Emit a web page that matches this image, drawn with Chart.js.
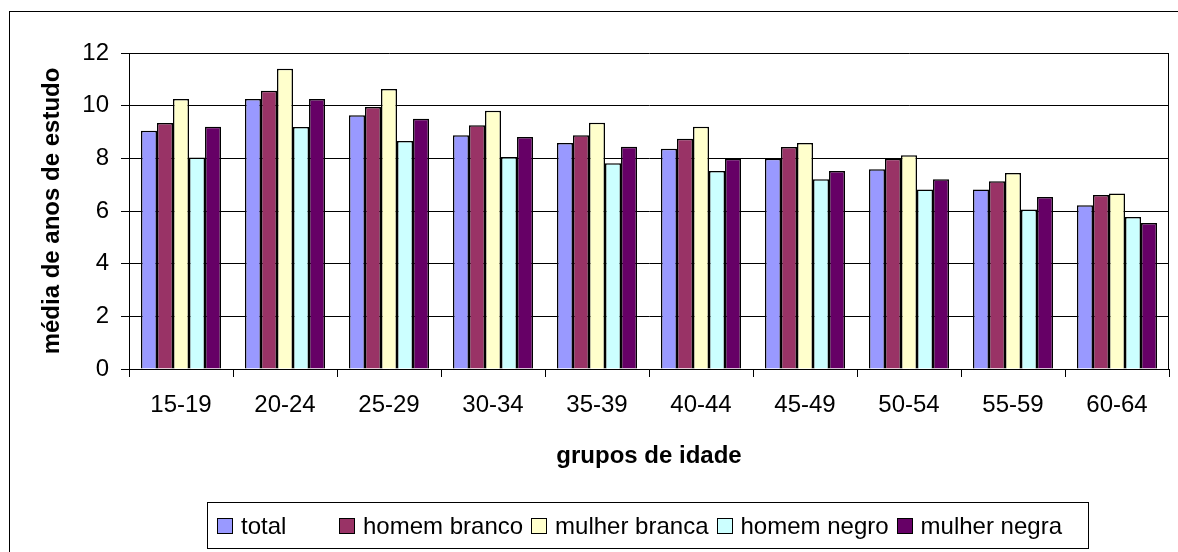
<!DOCTYPE html>
<html>
<head>
  <meta charset="utf-8">
  <title>média de anos de estudo</title>
  <script src="https://cdn.jsdelivr.net/npm/chart.js"></script>
  <style>
    body {
      margin: 0;
      background: #ffffff;
      font-family: 'Liberation Sans', Arial, sans-serif;
    }
    #wrap {
      position: relative;
      width: 1178px;
      height: 552px;
      overflow: hidden;
    }
    #legend {
      position: absolute;
      left: 207px;
      top: 502px;
      width: 882px;
      height: 47px;
      border: 1px solid #000;
      display: flex;
      align-items: center;
      padding-left: 9px;
      box-sizing: border-box;
      font-size: 24px;
      color: #000;
      white-space: nowrap;
    }
    .item {
      display: flex;
      align-items: center;
      margin-right: 8px;
    }
    .item .box {
      width: 14px;
      height: 14px;
      border: 1px solid #000;
      margin-right: 8px;
    }
  </style>
</head>
<body>
<div id="wrap">
  <canvas id="chart" width="1178" height="552"></canvas>
  <div id="legend"></div>
</div>

<script>
  // data
  const groups = ['15-19', '20-24', '25-29', '30-34', '35-39', '40-44', '45-49', '50-54', '55-59', '60-64'];
  const total = [9.05, 10.25, 9.64, 8.88, 8.58, 8.36, 7.98, 7.59, 6.82, 6.22];
  const homemBranco = [9.34, 10.57, 9.95, 9.26, 8.88, 8.74, 8.43, 7.98, 7.13, 6.61];
  const mulherBranca = [10.25, 11.4, 10.63, 9.81, 9.35, 9.2, 8.58, 8.12, 7.44, 6.66];
  const homemNegro = [8.03, 9.19, 8.66, 8.05, 7.81, 7.52, 7.21, 6.82, 6.06, 5.77];
  const mulherNegra = [9.2, 10.25, 9.5, 8.81, 8.44, 7.98, 7.52, 7.21, 6.53, 5.54];
  const seriesNames = ['total', 'homem branco', 'mulher branca', 'homem negro', 'mulher negra'];
  const seriesColors = ['#9999FF', '#993366', '#FFFFCC', '#CCFFFF', '#660066'];
  const yTicks = [0, 2, 4, 6, 8, 10, 12];

  const font = "'Liberation Sans', Arial, sans-serif";

  // outer frame + right edge of the plot area
  const framePlugin = {
    id: 'frame',
    beforeDraw(chart) {
      const ctx = chart.ctx;
      ctx.save();
      ctx.fillStyle = '#fff';
      ctx.fillRect(0, 0, chart.width, chart.height);
      ctx.strokeStyle = '#000';
      ctx.lineWidth = 1;
      ctx.strokeRect(9.5, 11.5, 1200, 600);
      ctx.restore();
    },
    afterDraw(chart) {
      const a = chart.chartArea;
      const ctx = chart.ctx;
      ctx.save();
      ctx.strokeStyle = '#000';
      ctx.lineWidth = 1;
      ctx.beginPath();
      ctx.moveTo(Math.round(a.right) - 0.5, a.top);
      ctx.lineTo(Math.round(a.right) - 0.5, a.bottom);
      ctx.stroke();
      ctx.restore();
    }
  };

  const seriesData = [total, homemBranco, mulherBranca, homemNegro, mulherNegra];

  const chart = new Chart(document.getElementById('chart'), {
    type: 'bar',
    data: {
      labels: groups,
      datasets: seriesNames.map((name, i) => ({
        label: name,
        data: seriesData[i],
        backgroundColor: seriesColors[i],
        borderColor: '#000',
        borderWidth: 1.5,
        categoryPercentage: 0.77,
        barPercentage: 1
      }))
    },
    options: {
      responsive: false,
      animation: false,
      layout: { padding: { left: 38, right: 9, top: 53, bottom: 81 } },
      plugins: {
        legend: { display: false },
        tooltip: { enabled: false }
      },
      scales: {
        x: {
          grid: {
            offset: true,
            drawOnChartArea: false,
            drawTicks: true,
            tickLength: 8,
            color: '#000'
          },
          border: { color: '#000', width: 1 },
          ticks: {
            color: '#000',
            padding: 14,
            font: { family: font, size: 24 },
            maxRotation: 0
          },
          title: {
            display: true,
            text: 'grupos de idade',
            color: '#000',
            padding: { top: 0, bottom: 0 },
            font: { family: font, size: 24, weight: 'bold' }
          },
          afterFit(scale) { scale.height = 102; }
        },
        y: {
          min: 0,
          max: 12,
          afterBuildTicks(scale) { scale.ticks = yTicks.map(v => ({ value: v })); },
          grid: {
            color: '#000',
            lineWidth: 1,
            tickLength: 8
          },
          border: { color: '#000', width: 1 },
          ticks: {
            color: '#000',
            padding: 12,
            font: { family: font, size: 24 }
          },
          title: {
            display: true,
            text: 'média de anos de estudo',
            color: '#000',
            padding: { top: 0, bottom: 0 },
            font: { family: font, size: 24, weight: 'bold' }
          },
          afterFit(scale) { scale.width = 91; }
        }
      }
    },
    plugins: [framePlugin]
  });

  // legend as html, built from the datasets
  const legend = document.getElementById('legend');
  chart.data.datasets.forEach((ds, i) => {
    const item = document.createElement('div');
    item.className = 'item';
    if (i === 0) item.style.minWidth = '114px';
    item.innerHTML = `<span class="box" style="background:${ds.backgroundColor}"></span><span>${ds.label}</span>`;
    legend.appendChild(item);
  });
</script>
</body>
</html>
